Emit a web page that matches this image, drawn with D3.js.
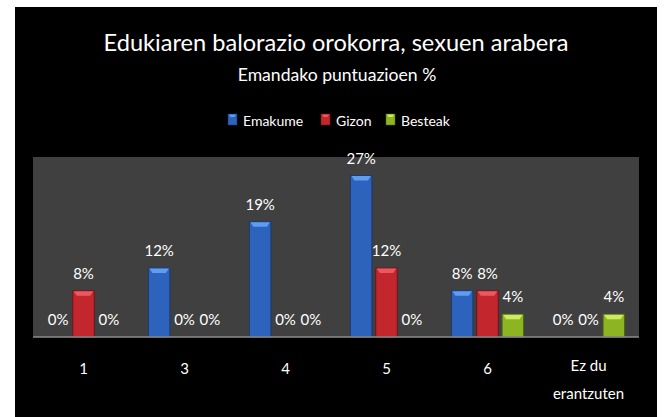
<!DOCTYPE html>
<html>
<head>
<meta charset="utf-8">
<script src="https://cdn.jsdelivr.net/npm/d3@7"></script>
<style>
  html, body { margin: 0; padding: 0; background: #fff; }
  svg { display: block; font-family: Lato, "Open Sans", sans-serif; }
</style>
</head>
<body>
<div id="chart"></div>
<script>
// datuak
const categories = ["1", "3", "4", "5", "6", "Ez du erantzuten"]
const seriesNames = ["Emakume", "Gizon", "Besteak"]
const emakume = [0, 11.5, 19.2, 26.9, 7.7, 0]
const gizon = [7.7, 0, 0, 11.5, 7.7, 0]
const besteak = [0, 0, 0, 0, 3.8, 3.8]

const colors = {
    Emakume: { fill: "#2d62bd", top: "#5f9df0", edge: "#1b3a72" },
    Gizon: { fill: "#c4262e", top: "#ea5862", edge: "#6e1418" },
    Besteak: { fill: "#8db522", top: "#cdea66", edge: "#4d6612" }
}

const width = 664, height = 417
const plot = { left: 33, right: 639, top: 157, bottom: 337 }

const svg = d3.select("#chart").append("svg")
    .attr("width", width)
    .attr("height", height)

// atzeko planoa
svg.append("rect")
    .attr("x", 15).attr("y", 7)
    .attr("width", 642).attr("height", height - 7)
    .attr("fill", "#000")

svg.append("rect")
    .attr("x", plot.left).attr("y", plot.top)
    .attr("width", plot.right - plot.left).attr("height", plot.bottom - plot.top)
    .attr("fill", "#404040")

// izenburua
svg.append("text")
    .attr("x", 336).attr("y", 51)
    .attr("text-anchor", "middle")
    .attr("fill", "#fff")
    .style("font-size", "23.6px")
    .text("Edukiaren balorazio orokorra, sexuen arabera")

svg.append("text")
    .attr("x", 337).attr("y", 81)
    .attr("text-anchor", "middle")
    .attr("fill", "#fff")
    .style("font-size", "17.6px")
    .text("Emandako puntuazioen %")

const data = categories.map((c, i) => ({
    category: c,
    values: [
        { key: "Emakume", value: emakume[i] },
        { key: "Gizon", value: gizon[i] },
        { key: "Besteak", value: besteak[i] }
    ]
}))

const x0 = d3.scaleBand()
    .domain(categories)
    .range([plot.left, plot.right])

const x1 = d3.scaleBand()
    .domain(seriesNames)
    .range([12.5, x0.bandwidth() - 12.5])

const y = d3.scaleLinear()
    .domain([0, 30])
    .range([plot.bottom, plot.top])

const barW = 21.5

const groups = svg.append("g").selectAll("g")
    .data(data)
    .enter().append("g")
    .attr("transform", d => `translate(${x0(d.category)},0)`)

const bars = groups.selectAll("g.bar")
    .data(d => d.values.filter(v => v.value > 0))
    .enter().append("g")
    .attr("class", "bar")

bars.append("rect")
    .attr("x", d => x1(d.key) + (x1.bandwidth() - barW) / 2)
    .attr("y", d => y(d.value))
    .attr("width", barW)
    .attr("height", d => y(0) - y(d.value))
    .attr("fill", d => colors[d.key].fill)
    .attr("stroke", d => colors[d.key].edge)
    .attr("stroke-width", 1)

// goiko distira
bars.append("path")
    .attr("d", d => {
        const bx = x1(d.key) + (x1.bandwidth() - barW) / 2
        const by = y(d.value)
        return `M${bx + 1},${by + 0.5} L${bx + barW - 1},${by + 0.5} L${bx + barW - 4},${by + 5} L${bx + 4},${by + 5} Z`
    })
    .attr("fill", d => colors[d.key].top)

// balio etiketak
groups.selectAll("text.val")
    .data(d => d.values)
    .enter().append("text")
    .attr("class", "val")
    .attr("x", d => x1(d.key) + x1.bandwidth() / 2)
    .attr("y", d => y(d.value) - 12)
    .attr("text-anchor", "middle")
    .attr("fill", "#fff")
    .style("font-size", "15px")
    .text(d => Math.round(d.value) + "%")

// oinarri lerroa
svg.append("line")
    .attr("x1", plot.left).attr("x2", plot.right)
    .attr("y1", plot.bottom).attr("y2", plot.bottom)
    .attr("stroke", "#8c8c8c")
    .attr("stroke-width", 1.5)

// x ardatza
const xAxis = svg.append("g")
    .attr("transform", `translate(0,${plot.bottom})`)
    .call(d3.axisBottom(x0).tickSize(0).tickPadding(0))

xAxis.select(".domain").remove()
xAxis.selectAll("text")
    .attr("fill", "#fff")
    .style("font-size", "15px")
    .style("font-family", "Lato, 'Open Sans', sans-serif")
    .attr("dy", null)
    .attr("y", 37)
    .each(function (d) {
        const words = d.split(" ")
        if (words.length < 3) return
        const t = d3.select(this).text(null)
        t.append("tspan").attr("x", 0).attr("dy", -3).text(words.slice(0, 2).join(" "))
        t.append("tspan").attr("x", 0).attr("dy", 28).text(words.slice(2).join(" "))
    })

// legenda
const legendPos = [228, 321, 386]
const legend = svg.append("g").selectAll("g")
    .data(seriesNames)
    .enter().append("g")
    .attr("transform", (d, i) => `translate(${legendPos[i]},114)`)

legend.append("rect")
    .attr("width", 9).attr("height", 11)
    .attr("fill", d => colors[d].fill)
    .attr("stroke", d => colors[d].edge)
    .attr("stroke-width", 0.5)

legend.append("path")
    .attr("d", "M1,0.5 L8,0.5 L6.5,3 L2.5,3 Z")
    .attr("fill", d => colors[d].top)

legend.append("text")
    .attr("x", 15).attr("y", 12)
    .attr("fill", "#fff")
    .style("font-size", "14px")
    .text(d => d)
</script>
</body>
</html>
